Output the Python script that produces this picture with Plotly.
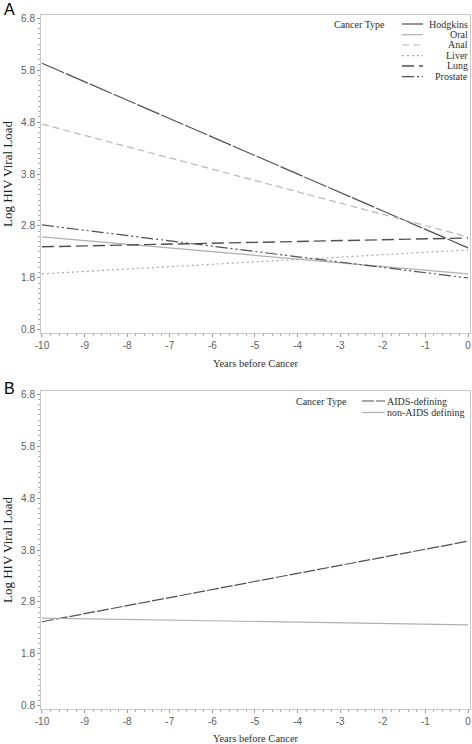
import plotly.graph_objects as go

# ---- data ----
years = [-10, 0]
cancer_types_a = ["Hodgkins", "Oral", "Anal", "Liver", "Lung", "Prostate"]
hodgkins = [5.93, 2.38]
oral = [2.59, 1.88]
anal = [4.76, 2.59]
liver = [1.88, 2.34]
lung = [2.40, 2.57]
prostate = [2.82, 1.80]

cancer_types_b = ["AIDS-defining", "non-AIDS defining"]
aids_defining = [2.42, 3.97]
non_aids = [2.49, 2.36]

x_ticks = [-10, -9, -8, -7, -6, -5, -4, -3, -2, -1, 0]
x_tick_labels = ["-10", "-9", "-8", "-7", "-6", "-5", "-4", "-3", "-2", "-1", "0"]
y_ticks = [0.8, 1.8, 2.8, 3.8, 4.8, 5.8, 6.8]
y_tick_labels = ["0.8", "1.8", "2.8", "3.8", "4.8", "5.8", "6.8"]

# ---- styles ----
DARK = "#505050"
LIGHT = "#b0b0b0"
styles_a = {
    "Hodgkins": dict(color=DARK, dash="24px,2px", width=1.2),
    "Oral": dict(color=LIGHT, dash="solid", width=1.2),
    "Anal": dict(color="#b8b8b8", dash="7px,4px", width=1.2),
    "Liver": dict(color="#a8a8a8", dash="2px,3px", width=1.2),
    "Lung": dict(color=DARK, dash="12px,5px", width=1.4),
    "Prostate": dict(color=DARK, dash="12px,3px,2px,3px,2px,3px", width=1.2),
}
styles_b = {
    "AIDS-defining": dict(color=DARK, dash="12px,2px", width=1.2),
    "non-AIDS defining": dict(color=LIGHT, dash="solid", width=1.2),
}

series_a = dict(zip(cancer_types_a, [hodgkins, oral, anal, liver, lung, prostate]))
series_b = dict(zip(cancer_types_b, [aids_defining, non_aids]))

fig = go.Figure()
for name in cancer_types_a:
    fig.add_trace(go.Scatter(x=years, y=series_a[name], mode="lines", name=name,
                             line=styles_a[name], xaxis="x", yaxis="y", showlegend=False))
for name in cancer_types_b:
    fig.add_trace(go.Scatter(x=years, y=series_b[name], mode="lines", name=name,
                             line=styles_b[name], xaxis="x2", yaxis="y2", showlegend=False))

W, H = 472, 744
ML, MR, MT, MB = 41, 2, 15, 35
PH = H - MT - MB

def py(y_px):
    return (H - MB - y_px) / PH

def px_(x_px):
    return (x_px - ML) / (W - ML - MR)

TICKFONT = dict(family="Liberation Sans, Arial", size=10, color="#606060")
TITLEFONT = dict(family="Liberation Serif, Times New Roman", size=10.5, color="#303030")

def xaxis_cfg(anchor):
    return dict(range=[-10.023, 0.047], tickvals=x_ticks, ticktext=x_tick_labels,
                ticks="outside", ticklen=3,
                tickcolor="#999", tickfont=TICKFONT, showgrid=False, zeroline=False,
                showline=True, linecolor="#c8c8c8", linewidth=1, mirror=True,
                anchor=anchor,
                minor=dict(dtick=0.2, ticks="outside", ticklen=2, tickcolor="#aaa"),
                title=dict(text="Years before Cancer", font=TITLEFONT, standoff=9))

def yaxis_cfg(anchor, domain):
    return dict(range=[0.742, 6.858], tickvals=y_ticks, ticktext=y_tick_labels,
                ticks="outside", ticklen=3, tickcolor="#999", tickfont=TICKFONT,
                showgrid=False, zeroline=False, showline=True, linecolor="#c8c8c8",
                linewidth=1, mirror=True, anchor=anchor, domain=domain,
                minor=dict(dtick=0.1, ticks="outside", ticklen=2, tickcolor="#aaa"),
                title=dict(text="Log HIV Viral Load",
                           font=dict(family="Liberation Serif, Times New Roman", size=13,
                                     color="#202020"), standoff=15))

fig.update_layout(
    width=W, height=H, margin=dict(l=ML, r=MR, t=MT, b=MB, autoexpand=False),
    paper_bgcolor="white", plot_bgcolor="white",
    xaxis=xaxis_cfg("y"), yaxis=yaxis_cfg("x", [py(333), 1.0]),
    xaxis2=xaxis_cfg("y2"), yaxis2=yaxis_cfg("x2", [0.0, py(391)]),
    showlegend=False,
)

annotations = []
shapes = []
LEGFONT = dict(family="Liberation Serif, Times New Roman", size=10, color="#303030")

# panel letters
annotations.append(dict(text="A", x=px_(2), y=py(10), xref="paper", yref="paper",
                        xanchor="left", yanchor="middle", showarrow=False,
                        font=dict(family="Liberation Sans, Arial", size=16, color="black")))
annotations.append(dict(text="B", x=px_(2), y=py(388), xref="paper", yref="paper",
                        xanchor="left", yanchor="middle", showarrow=False,
                        font=dict(family="Liberation Sans, Arial", size=16, color="black")))

# legend A (right-aligned labels)
annotations.append(dict(text="Cancer Type", x=px_(333), y=py(24), xref="paper", yref="paper",
                        xanchor="left", yanchor="middle", showarrow=False, font=LEGFONT,
                        borderpad=0))
row_y = [24, 34.7, 45, 55.7, 66, 76.7]
for name, ry in zip(cancer_types_a, row_y):
    st = styles_a[name]
    shapes.append(dict(type="line", xref="paper", yref="paper", x0=px_(402), x1=px_(423),
                       y0=py(ry), y1=py(ry),
                       line=dict(color=st["color"], dash=st["dash"], width=st["width"])))
    annotations.append(dict(text=name, x=px_(469), y=py(ry), xref="paper", yref="paper",
                            xanchor="right", yanchor="middle", showarrow=False, font=LEGFONT,
                            borderpad=0))

# legend B (left-aligned labels)
annotations.append(dict(text="Cancer Type", x=px_(295), y=py(401), xref="paper", yref="paper",
                        xanchor="left", yanchor="middle", showarrow=False, font=LEGFONT,
                        borderpad=0))
for name, ry in zip(cancer_types_b, [401, 412.5]):
    st = styles_b[name]
    shapes.append(dict(type="line", xref="paper", yref="paper", x0=px_(362), x1=px_(385),
                       y0=py(ry), y1=py(ry),
                       line=dict(color=st["color"], dash=st["dash"], width=st["width"])))
    annotations.append(dict(text=name, x=px_(386), y=py(ry), xref="paper", yref="paper",
                            xanchor="left", yanchor="middle", showarrow=False, font=LEGFONT,
                            borderpad=0))

fig.update_layout(annotations=annotations, shapes=shapes)
fig.write_html("out.html", config={"displayModeBar": False},
               post_script="document.body.style.margin='0';document.body.style.overflow='hidden';")
